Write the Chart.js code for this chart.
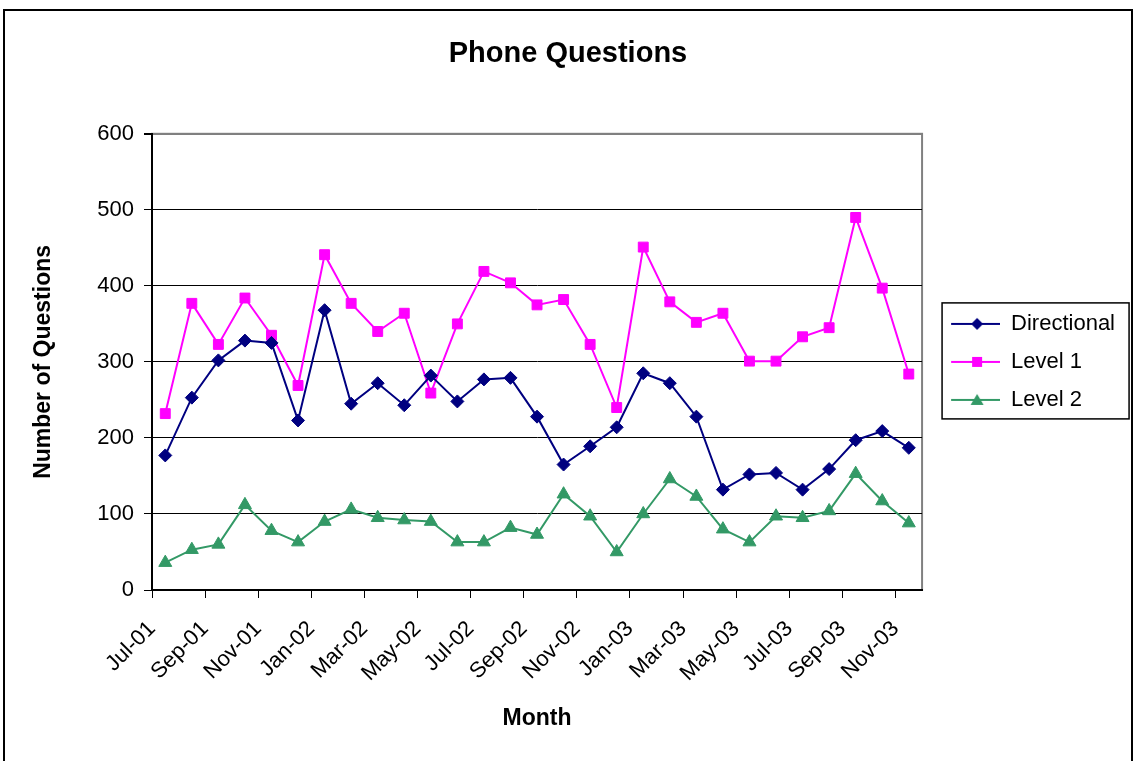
<!DOCTYPE html>
<html>
<head>
<meta charset="utf-8">
<script src="https://cdn.jsdelivr.net/npm/chart.js@4/dist/chart.umd.min.js"></script>
<style>
  html, body { margin: 0; padding: 0; background: #fff; }
  canvas { display: block; }
</style>
</head>
<body>
<canvas id="chart" width="1136" height="761"></canvas>
<script>
// Data
const months = ['Jul-01', 'Aug-01', 'Sep-01', 'Oct-01', 'Nov-01', 'Dec-01',
    'Jan-02', 'Feb-02', 'Mar-02', 'Apr-02', 'May-02', 'Jun-02',
    'Jul-02', 'Aug-02', 'Sep-02', 'Oct-02', 'Nov-02', 'Dec-02',
    'Jan-03', 'Feb-03', 'Mar-03', 'Apr-03', 'May-03', 'Jun-03',
    'Jul-03', 'Aug-03', 'Sep-03', 'Oct-03', 'Nov-03'];
const directional = [177, 253, 302, 328, 325, 223, 368, 245, 272, 243, 282, 248, 277, 279,
    228, 165, 189, 214, 285, 272, 228, 132, 152, 154, 132, 159, 197, 209, 187];
const level1 = [232, 377, 323, 384, 335, 269, 441, 377, 340, 364, 259, 350, 419, 404,
    375, 382, 323, 240, 451, 379, 352, 364, 301, 301, 333, 345, 490, 397, 284];
const level2 = [36, 53, 60, 112, 78, 63, 90, 106, 95, 92, 90, 63, 63, 82,
    73, 126, 97, 50, 100, 146, 123, 80, 63, 97, 95, 104, 153, 117, 88];
const yTicks = [0, 100, 200, 300, 400, 500, 600];

const NAVY = '#000080';
const MAGENTA = '#FF00FF';
const GREEN = '#339966';
const FONT = "'Liberation Sans', Arial, sans-serif";

// Excel style legend icon: a short line with the marker in the middle
function legendIcon(color, shape) {
    const c = document.createElement('canvas');
    c.width = 62;
    c.height = 16;
    const g = c.getContext('2d');
    g.strokeStyle = color;
    g.fillStyle = color;
    g.lineWidth = 2;
    g.beginPath();
    g.moveTo(13, 8);
    g.lineTo(62, 8);
    g.stroke();
    const cx = 39, cy = 8;
    g.beginPath();
    if (shape === 'diamond') {
        g.moveTo(cx, cy - 6); g.lineTo(cx + 6, cy); g.lineTo(cx, cy + 6); g.lineTo(cx - 6, cy);
    } else if (shape === 'square') {
        g.rect(cx - 5, cy - 5, 10, 10);
    } else {
        g.moveTo(cx, cy - 6); g.lineTo(cx + 6.5, cy + 5); g.lineTo(cx - 6.5, cy + 5);
    }
    g.closePath();
    g.fill();
    return c;
}
const icons = [legendIcon(NAVY, 'diamond'), legendIcon(MAGENTA, 'square'), legendIcon(GREEN, 'triangle')];

function toPoints(values) {
    return values.map((v, i) => ({ x: i + 0.5, y: v }));
}

// Frame around the whole chart, the plot area and the legend
const framePlugin = {
    id: 'frames',
    beforeDraw(chart) {
        const ctx = chart.ctx;
        const a = chart.chartArea;
        ctx.save();
        ctx.strokeStyle = '#000';
        ctx.lineWidth = 2;
        ctx.strokeRect(4, 10, 1128, 800);
        ctx.strokeStyle = '#808080';
        ctx.lineWidth = 2;
        ctx.strokeRect(a.left, a.top, a.right - a.left, a.bottom - a.top);
        ctx.restore();
    },
    afterDraw(chart) {
        const boxes = chart.legend.legendHitBoxes;
        if (!boxes || !boxes.length) return;
        const first = boxes[0];
        const last = boxes[boxes.length - 1];
        const ctx = chart.ctx;
        ctx.save();
        ctx.strokeStyle = '#000';
        ctx.lineWidth = 1.5;
        ctx.strokeRect(first.left + 4, first.top - 10, 187, last.top + last.height + 8 - (first.top - 10));
        ctx.restore();
    }
};

new Chart(document.getElementById('chart'), {
    type: 'line',
    data: {
        datasets: [{
            label: 'Directional',
            data: toPoints(directional),
            borderColor: NAVY,
            backgroundColor: NAVY,
            borderWidth: 2,
            pointStyle: 'rectRot',
            pointRadius: 6.5,
            pointBorderWidth: 1
        }, {
            label: 'Level 1',
            data: toPoints(level1),
            borderColor: MAGENTA,
            backgroundColor: MAGENTA,
            borderWidth: 2,
            pointStyle: 'rect',
            pointRadius: 7,
            pointBorderWidth: 1
        }, {
            label: 'Level 2',
            data: toPoints(level2),
            borderColor: GREEN,
            backgroundColor: GREEN,
            borderWidth: 2,
            pointStyle: 'triangle',
            pointRadius: 7.5,
            pointBorderWidth: 1
        }]
    },
    options: {
        responsive: false,
        devicePixelRatio: 1,
        animation: false,
        layout: { padding: { left: 11, right: 11 } },
        plugins: {
            title: {
                display: true,
                text: 'Phone Questions',
                color: '#000',
                font: { family: FONT, size: 29, weight: 'bold' },
                padding: { top: 37, bottom: 62 }
            },
            legend: {
                position: 'right',
                fullSize: false,
                maxWidth: 214,
                labels: {
                    usePointStyle: true,
                    pointStyleWidth: 62,
                    padding: 16,
                    color: '#000',
                    font: { family: FONT, size: 22 },
                    generateLabels: chart => chart.data.datasets.map((ds, i) => ({
                        text: ds.label,
                        datasetIndex: i,
                        pointStyle: icons[i],
                        fontColor: '#000',
                        fillStyle: 'transparent',
                        strokeStyle: 'transparent',
                        lineWidth: 0,
                        hidden: false
                    }))
                }
            },
            tooltip: { enabled: false }
        },
        scales: {
            x: {
                type: 'linear',
                min: 0,
                max: months.length,
                afterBuildTicks: s => {
                    s.ticks = months.map((m, i) => ({ value: i })).filter(t => t.value % 2 === 0);
                },
                afterFit: s => { s.height = 171; },
                ticks: {
                    autoSkip: false,
                    minRotation: 45,
                    maxRotation: 45,
                    padding: 18,
                    color: '#000',
                    font: { family: FONT, size: 22 },
                    callback: v => months[v]
                },
                grid: { drawOnChartArea: false, drawTicks: true, tickLength: 8, color: '#000' },
                border: { color: '#000', width: 2 },
                title: {
                    display: true,
                    text: 'Month',
                    color: '#000',
                    font: { family: FONT, size: 23, weight: 'bold' },
                    padding: { top: 0, bottom: 29 }
                }
            },
            y: {
                min: yTicks[0],
                max: yTicks[yTicks.length - 1],
                afterBuildTicks: s => { s.ticks = yTicks.map(v => ({ value: v })); },
                afterFit: s => { s.width = 141; },
                ticks: {
                    padding: 10,
                    color: '#000',
                    font: { family: FONT, size: 22 }
                },
                grid: {
                    color: c => c.tick && c.tick.value === 600 ? '#808080' : '#000',
                    tickColor: '#000',
                    tickLength: 8,
                    lineWidth: c => c.tick && c.tick.value === 600 ? 2 : 1
                },
                border: { color: '#000', width: 2 },
                title: {
                    display: true,
                    text: 'Number of Questions',
                    color: '#000',
                    font: { family: FONT, size: 23, weight: 'bold' },
                    padding: { top: 19, bottom: 0 }
                }
            }
        }
    },
    plugins: [framePlugin]
});
</script>
</body>
</html>
